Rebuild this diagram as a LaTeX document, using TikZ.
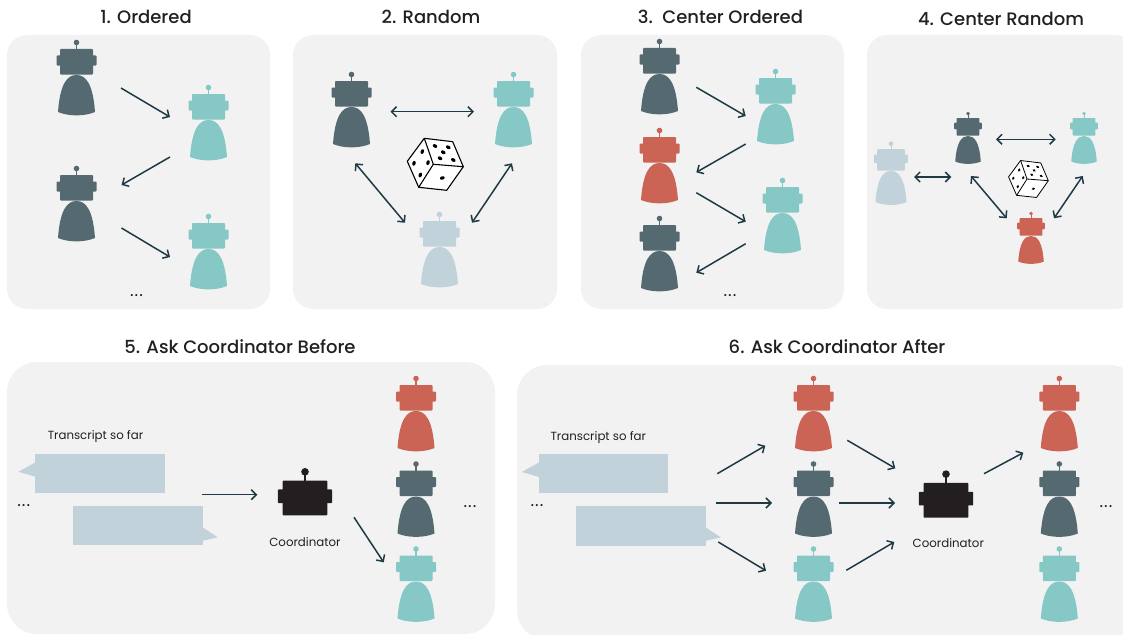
\documentclass[tikz,border=0pt]{standalone}
\usepackage{fontspec}
\setmainfont{Poppins}
\newfontfamily\titlefont{Poppins Medium}
\newfontfamily\dotsfont[LetterSpace=6]{Poppins}
\usepackage{xcolor}
\usepackage{tikz}
\usetikzlibrary{arrows.meta, calc}

\definecolor{panelgray}{HTML}{F2F2F3}
\definecolor{slatebot}{HTML}{546A70}
\definecolor{tealbot}{HTML}{85C8C6}
\definecolor{redbot}{HTML}{CB6454}
\definecolor{palebot}{HTML}{C2D2DA}
\definecolor{leadblack}{HTML}{231F20}
\definecolor{flowline}{HTML}{1F3A44}

% head of a robot, origin at the neck
\newcommand{\headshape}{
    \fill[rounded corners=.8pt] (-16.5,-0.5) rectangle (16.5,-26);
    \fill[rounded corners=.8pt] (-20,-9.5) rectangle (20,-19.5);
    \fill (-.6,-25) rectangle (.6,-31);
    \fill (0,-32.5) circle (2.8);
}

\tikzset{
    panel/.style={fill=panelgray, rounded corners=20pt},
    widepanel/.style={fill=panelgray, rounded corners=30pt},
    spot/.style={inner sep=0pt, outer sep=0pt, minimum size=0pt},
    flow/.style={draw=flowline, line width=1.5pt, -{Straight Barb[length=5pt,width=10pt]}},
    twoway/.style={draw=flowline, line width=1.5pt, {Straight Barb[length=5pt,width=10pt]}-{Straight Barb[length=5pt,width=10pt]}},
    titletext/.style={text=leadblack, font=\titlefont\fontsize{18}{20}\selectfont},
    labeltext/.style={text=leadblack, font=\fontsize{11.8}{13}\selectfont},
    dotstext/.style={text=leadblack, font=\dotsfont\fontsize{17}{17}\selectfont},
    bubble/.style={fill=palebot, inner sep=0pt, outer sep=0pt, minimum width=129.6pt, minimum height=39.4pt},
    pip/.style={x radius=2.5, y radius=1.7},
    robothead/.pic={
        \headshape
    },
    robot/.pic={
        \headshape
        \fill (-18.5,37) .. controls (-16.5,9) and (-9.5,0) .. (0,0)
            .. controls (9.5,0) and (16.5,9) .. (18.5,37)
            .. controls (8,41.5) and (-8,41.5) .. cycle;
    },
    dicecube/.pic={
        \draw[fill=white, line join=round] (-9,-26) -- (19.4,-22.6) -- (30,2.4) -- (13.4,26) -- (-14.6,23) -- (-26,-3) -- cycle;
        \draw (-9,-26) -- (0,0) -- (30,2.4);
        \draw (0,0) -- (-14.6,23);
        \fill[black] (-11,-12.7) ellipse [pip, rotate=70];
        \fill[black] (-19.3,-1) ellipse [pip, rotate=70];
        \fill[black] (-5.3,-1.7) ellipse [pip, rotate=70];
        \fill[black] (-13,10.7) ellipse [pip, rotate=70];
        \fill[black] (1.7,-18.3) ellipse [pip, rotate=-30];
        \fill[black] (15,-17) ellipse [pip, rotate=-30];
        \fill[black] (10,-12) ellipse [pip, rotate=-30];
        \fill[black] (6.7,-6) ellipse [pip, rotate=-30];
        \fill[black] (20,-4.3) ellipse [pip, rotate=-30];
        \fill[black] (9,13.7) ellipse [pip, rotate=20];
    },
}

% name, position at the neck, colour
\newcommand{\robotat}[4][1]{
    \node[spot] (#2) at (#3) {};
    \pic[fill=#4, scale=#1] at (#3) {robot};
}
\newcommand{\leadat}[2]{
    \node[spot] (#1) at (#2) {};
    \pic[fill=leadblack, scale=1.36] at (#2) {robothead};
}
\newcommand{\tailwest}[1]{
    \fill[palebot] ($(#1.west)+(0,-11)$) -- ($(#1.west)+(-17,-1.65)$) -- ($(#1.west)+(0,3.35)$) -- cycle;
}
\newcommand{\taileast}[1]{
    \fill[palebot] ($(#1.east)+(0,1.6)$) -- ($(#1.east)+(15,11.6)$) -- ($(#1.east)+(0,15)$) -- cycle;
}

\begin{document}
\begin{tikzpicture}[x=1pt, y=-1pt]
    \useasboundingbox (0,0) rectangle (1123,634);

    % Grey panels, the two on the right run off the page
    \begin{scope}
        \clip (0,0) rectangle (1123,634);
        \fill[panel] (7,35) rectangle (270,309);
        \fill[panel] (293,35) rectangle (557,309);
        \fill[panel] (581,35) rectangle (844,309);
        \fill[panel] (867,35) rectangle (1135,309);
        \fill[widepanel] (7,362) rectangle (495,634);
        \fill[widepanel] (517,365) rectangle (1140,640);
    \end{scope}

    % 1. Ordered
    \node[titletext] (titleord) at (146,17) {1. Ordered};
    \robotat{ordA}{76.5,75}{slatebot}
    \robotat{ordB}{208.5,120}{tealbot}
    \robotat{ordC}{76.5,201}{slatebot}
    \robotat{ordD}{208.5,249}{tealbot}
    \draw[flow] ($(ordA)+(44.5,13)$) -- ($(ordB)+(-38.5,-3)$);
    \draw[flow] ($(ordB)+(-38.5,37)$) -- ($(ordC)+(45,-16)$);
    \draw[flow] ($(ordC)+(45,27)$) -- ($(ordD)+(-38.5,8)$);
    \node[dotstext] (dotsord) at (136.5,296) {...};

    % 2. Random
    \node[titletext] (titlernd) at (431,17) {2. Random};
    \robotat{rndA}{351.5,107}{slatebot}
    \robotat{rndB}{513.5,107}{tealbot}
    \robotat{rndC}{439.5,247}{palebot}
    \draw[twoway] ($(rndA)+(39,4.7)$) -- ($(rndB)+(-39.5,4.7)$);
    \draw[twoway] ($(rndA)+(3.8,56.3)$) -- ($(rndC)+(-34.5,-24.3)$);
    \draw[twoway] ($(rndC)+(32.5,-24.3)$) -- ($(rndB)+(-1.5,56.3)$);
    \pic[line width=1.1pt] at (433.3,164.3) {dicecube};

    % 3. Center Ordered
    \node[titletext] (titlecen) at (720.5,17) {3.\ \ Center Ordered};
    \robotat{cenA}{659.5,74}{slatebot}
    \robotat{cenB}{775.5,104}{tealbot}
    \robotat{cenC}{659.5,163}{redbot}
    \robotat{cenD}{782.5,213}{tealbot}
    \robotat{cenE}{659.5,251}{slatebot}
    \draw[flow] ($(cenA)+(36.8,13.3)$) -- ($(cenB)+(-29.8,12)$);
    \draw[flow] ($(cenB)+(-29.8,40)$) -- ($(cenC)+(36.8,9.3)$);
    \draw[flow] ($(cenC)+(36.8,29.7)$) -- ($(cenD)+(-36.8,8.7)$);
    \draw[flow] ($(cenD)+(-36.8,30.7)$) -- ($(cenE)+(36.8,21.7)$);
    \node[dotstext] (dotscen) at (730,296) {...};

    % 4. Center Random
    \node[titletext] (titlemix) at (1001,19) {4. Center Random};
    \robotat[.84]{mixA}{891,171}{palebot}
    \robotat[.69]{mixB}{968,136}{slatebot}
    \robotat[.69]{mixC}{1084,136}{tealbot}
    \robotat[.69]{mixD}{1031,236}{redbot}
    \draw[twoway] ($(mixA)+(23,6)$) -- ($(mixB)+(-16.7,41)$);
    \draw[twoway] ($(mixB)+(28,3.3)$) -- ($(mixC)+(-28.3,3.3)$);
    \draw[twoway] ($(mixB)+(3,40)$) -- ($(mixD)+(-24.3,-17.7)$);
    \draw[twoway] ($(mixD)+(23,-17.7)$) -- ($(mixC)+(-1.3,40)$);
    \pic[scale=.71, line width=.8pt] at (1027,179) {dicecube};

    % 5. Ask Coordinator Before
    \node[titletext] (titlebef) at (240,347) {5. Ask Coordinator Before};
    \node[labeltext] (transbef) at (95.5,437) {Transcript so far};
    \node[bubble] (befU) at (100.2,473.4) {};
    \tailwest{befU}
    \node[bubble] (befV) at (137.9,525.7) {};
    \taileast{befV}
    \node[dotstext] (dotsbefL) at (23.7,506) {...};
    \leadat{befK}{305,516}
    \node[labeltext] (leadbef) at (305,541.7) {Coordinator};
    \robotat{befA}{416,411}{redbot}
    \robotat{befB}{416,496.5}{slatebot}
    \robotat{befC}{416,581.5}{tealbot}
    \node[dotstext] (dotsbefR) at (470,506.7) {...};
    \draw[flow] ($(befV)+(63.8,-31)$) -- ($(befK)+(-47.7,-21.3)$);
    \draw[flow] ($(befK)+(49,1.3)$) -- ($(befC)+(-32.3,-19.2)$);

    % 6. Ask Coordinator After
    \node[titletext] (titleaft) at (837,347) {6. Ask Coordinator After};
    \node[labeltext] (transaft) at (598.3,437.3) {Transcript so far};
    \node[bubble] (aftU) at (603.6,473.6) {};
    \tailwest{aftU}
    \node[bubble] (aftV) at (641,525.8) {};
    \taileast{aftV}
    \node[dotstext] (dotsaftL) at (537,506) {...};
    \robotat{aftA}{813.5,411}{redbot}
    \robotat{aftB}{813.5,496.5}{slatebot}
    \robotat{aftC}{813.5,581.5}{tealbot}
    \leadat{aftK}{946,518.3}
    \node[labeltext] (leadaft) at (948.3,542.7) {Coordinator};
    \robotat{aftD}{1059.3,411}{redbot}
    \robotat{aftE}{1059.3,496.5}{slatebot}
    \robotat{aftF}{1059.3,581.5}{tealbot}
    \node[dotstext] (dotsaftR) at (1106,506.7) {...};
    \draw[flow] ($(aftV)+(76.3,-52.1)$) -- ($(aftA)+(-48.2,34.7)$);
    \draw[flow] ($(aftV)+(75.3,-22.8)$) -- ($(aftB)+(-41.5,6.5)$);
    \draw[flow] ($(aftV)+(77.3,16.2)$) -- ($(aftC)+(-47.5,-10.8)$);
    \draw[flow] ($(aftA)+(33.8,29.3)$) -- ($(aftK)+(-50.7,-50)$);
    \draw[flow] ($(aftB)+(25.5,6.5)$) -- ($(aftK)+(-51,-15.3)$);
    \draw[flow] ($(aftC)+(32.8,-11.2)$) -- ($(aftK)+(-51.7,23.7)$);
    \draw[flow] ($(aftK)+(38,-44.6)$) -- ($(aftD)+(-36,41.7)$);
\end{tikzpicture}
\end{document}
